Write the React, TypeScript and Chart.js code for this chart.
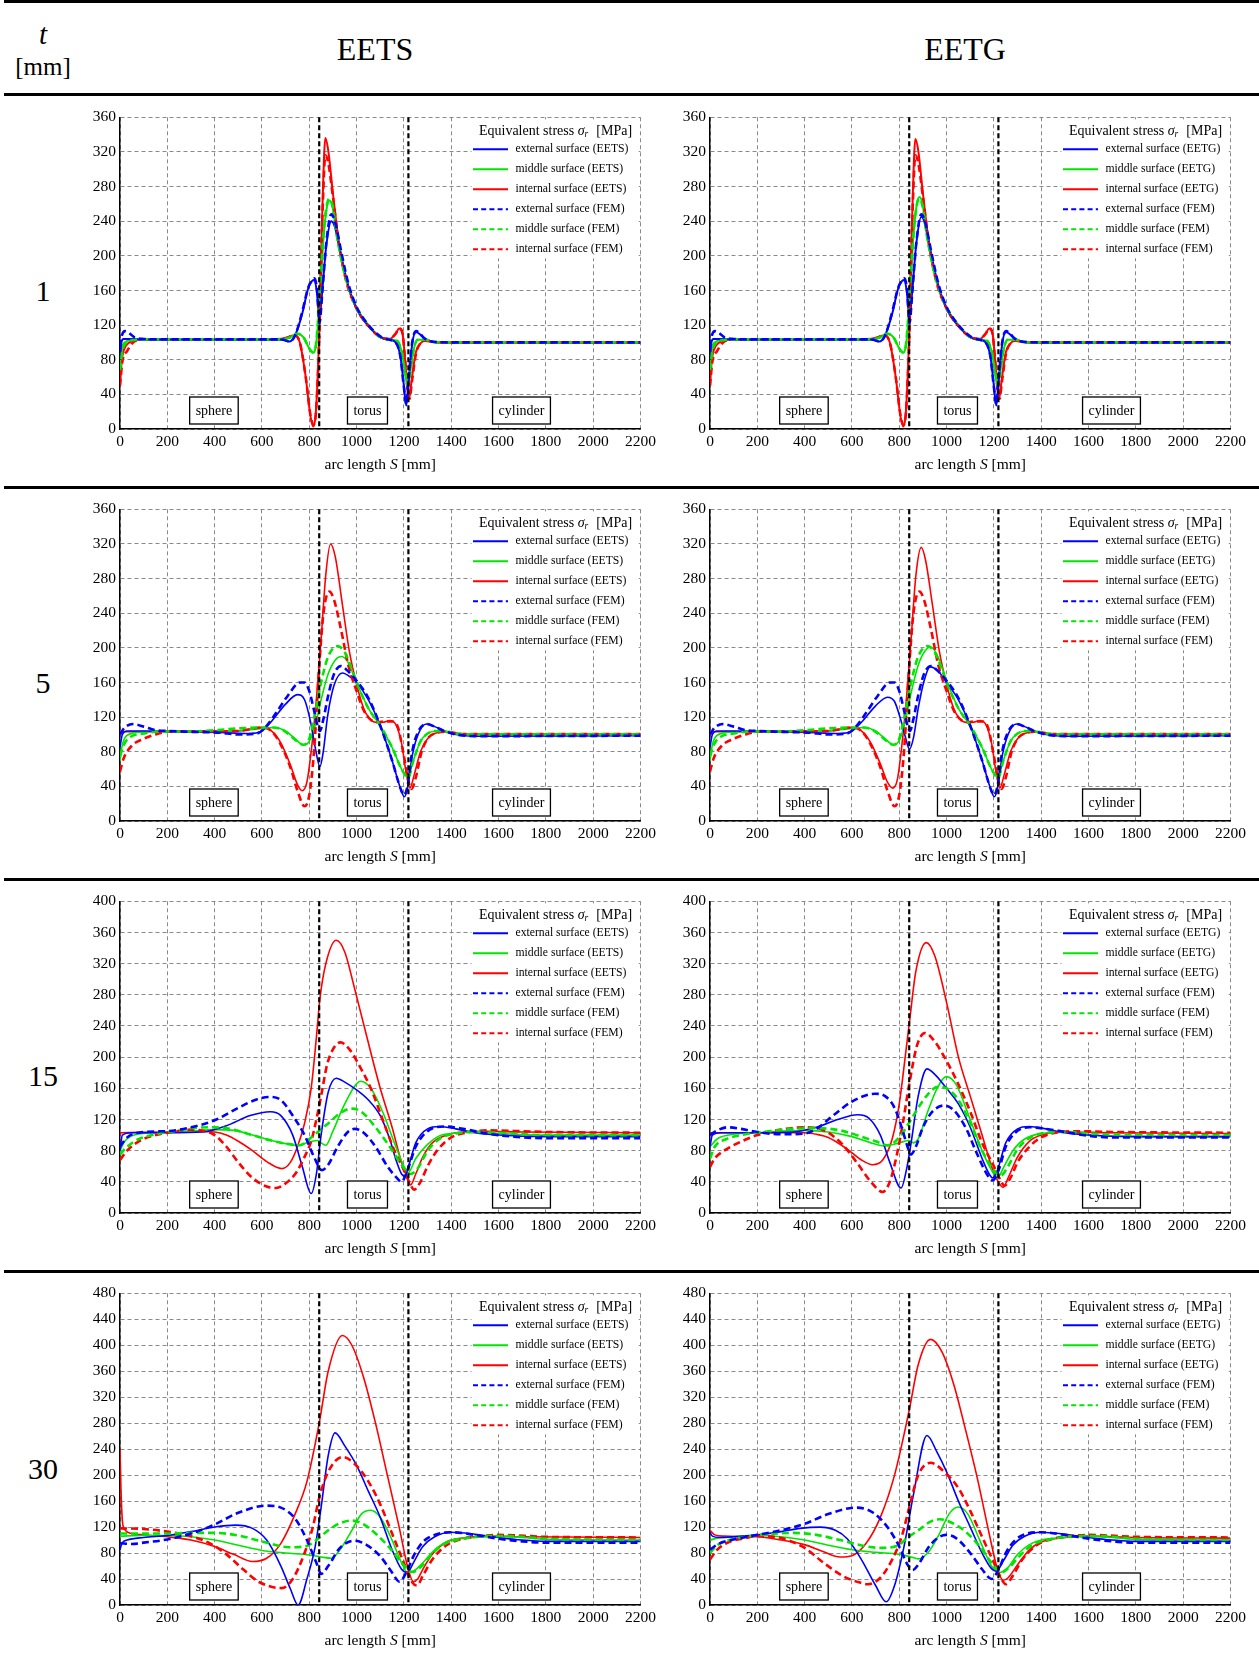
import React, { useEffect, useRef } from 'react';
import { Chart, registerables } from 'chart.js';

Chart.register(...registerables);

const FONT = '"Liberation Serif", "Times New Roman", serif';
Chart.defaults.font.family = FONT;

type P = [number, number][];

// ---------- axes / labels ----------
const X_MAX = 2200;
const X_STEP = 200;
const Y_STEP = 40;
const Y_MAXES = [360, 360, 400, 480];
const THICKNESS_LABELS = ['1', '5', '15', '30'];
const METHODS = ['EETS', 'EETG'];
const BOUNDARIES = [842, 1219];
const REGIONS = ['sphere', 'torus', 'cylinder'];
const REGION_X = [397, 1046, 1697];
const SURFACES = ['external surface', 'middle surface', 'internal surface'];
const COLORS = ['#0000ff', '#00e600', '#ff0000'];

// ---------- t = 1 mm ----------
const T1_EETS_EXT: P = [[0,80],[6,100],[15,104],[40,104],[100,103.5],[650,103.5],[690,103],[715,101],[740,108],[770,133],[795,162],[812,171],[822,172],[832,158],[843,128],[855,160],[872,212],[893,240],[910,232],[935,200],[965,165],[1000,139],[1050,119],[1100,106],[1140,103],[1165,100],[1185,84],[1200,50],[1210,27],[1220,55],[1235,98],[1250,112],[1265,110],[1290,104],[1330,100.5],[1400,100],[2200,100]];
const T1_EETS_MID: P = [[0,65],[8,92],[20,100],[50,103],[100,103.5],[680,103.5],[720,106],[750,110],[775,106],[800,93],[815,88],[828,96],[842,140],[860,220],[875,257],[886,264],[898,257],[915,225],[940,190],[970,160],[1000,140],[1050,120],[1100,106],[1140,103],[1170,102],[1190,90],[1205,66],[1215,51],[1225,63],[1240,90],[1258,103],[1290,103],[1330,100.5],[1400,100],[2200,100]];
const T1_EETS_INT: P = [[0,50],[8,80],[25,96],[60,102],[100,103.5],[650,103.5],[700,105],[735,108],[760,100],[785,60],[805,15],[817,3],[828,20],[842,110],[855,250],[868,336],[880,322],[900,272],[925,216],[955,173],[1000,139],[1050,119],[1100,106],[1140,104],[1165,110],[1180,116],[1193,112],[1205,80],[1215,46],[1222,35],[1232,55],[1250,88],[1270,99],[1290,102],[1330,100.5],[1400,100],[2200,100]];
const T1_EETG_EXT: P = [[0,80],[6,100],[15,104],[40,104],[100,103.5],[650,103.5],[690,103],[715,101],[740,108],[770,133],[795,162],[812,171],[822,172],[832,158],[843,128],[855,160],[872,214],[893,245],[910,236],[935,202],[965,166],[1000,139],[1050,119],[1100,106],[1140,103],[1165,100],[1185,84],[1200,50],[1210,27],[1220,55],[1235,98],[1250,112],[1265,110],[1290,104],[1330,100.5],[1400,100],[2200,100]];
const T1_EETG_MID: P = [[0,65],[8,92],[20,100],[50,103],[100,103.5],[680,103.5],[720,106],[750,110],[775,106],[800,93],[815,88],[828,96],[842,142],[860,224],[875,261],[886,268],[898,260],[915,227],[940,191],[970,160],[1000,140],[1050,120],[1100,106],[1140,103],[1170,102],[1190,90],[1205,66],[1215,51],[1225,63],[1240,90],[1258,103],[1290,103],[1330,100.5],[1400,100],[2200,100]];
const T1_EETG_INT: P = [[0,50],[8,80],[25,96],[60,102],[100,103.5],[650,103.5],[700,105],[735,108],[760,100],[785,60],[805,15],[817,3],[828,20],[842,110],[855,250],[868,335],[880,322],[900,272],[925,216],[955,173],[1000,139],[1050,119],[1100,106],[1140,104],[1165,110],[1180,116],[1193,112],[1205,80],[1215,46],[1222,35],[1232,55],[1250,88],[1270,99],[1290,102],[1330,100.5],[1400,100],[2200,100]];
const T1_FEM_EXT: P = [[0,95],[8,108],[22,113],[38,111],[60,106],[100,104],[200,103.5],[650,103.5],[690,103],[715,101],[740,108],[770,135],[795,163],[812,172],[822,174],[833,160],[843,122],[855,158],[872,215],[893,248],[910,238],[935,205],[965,168],[1000,141],[1050,120],[1100,107],[1140,103],[1165,100],[1185,84],[1200,48],[1210,29],[1220,58],[1235,100],[1252,113],[1268,110],[1290,104],[1330,100.5],[1400,100],[2200,100]];
const T1_FEM_MID: P = [[0,68],[10,90],[30,100],[70,103],[120,103.5],[680,103.5],[720,106],[750,110],[775,106],[800,93],[815,89],[828,97],[842,145],[860,225],[875,260],[886,266],[898,258],[915,226],[940,190],[970,160],[1000,140],[1050,120],[1100,106],[1140,103],[1170,102],[1190,90],[1205,66],[1216,50],[1226,63],[1240,90],[1258,103],[1290,103],[1330,100.5],[1400,100],[2200,100]];
const T1_FEM_INT: P = [[0,50],[10,78],[30,90],[55,100],[100,103.5],[650,103.5],[700,105],[735,108],[760,100],[785,60],[805,16],[818,5],[829,22],[842,105],[855,240],[868,316],[880,308],[900,268],[925,215],[955,172],[1000,139],[1050,119],[1100,106],[1140,104],[1165,110],[1180,116],[1193,112],[1205,80],[1216,45],[1224,35],[1234,55],[1252,88],[1270,99],[1290,102],[1330,100.5],[1400,100],[2200,100]];

// ---------- t = 5 mm ----------
const T5_EETS_EXT: P = [[0,85],[10,100],[30,104],[100,104],[300,103],[450,102],[540,101],[600,104],[640,115],[700,135],[750,146],[780,140],[805,115],[825,85],[845,63],[858,78],[878,122],[905,157],[940,171],[975,166],[1000,160],[1050,140],[1100,110],[1150,70],[1185,38],[1202,28],[1215,38],[1235,75],[1260,100],[1295,112],[1330,109],[1370,104],[1420,100],[1500,98],[2200,98.5]];
const T5_EETS_MID: P = [[0,70],[10,88],[30,99],[100,103],[300,103.5],[500,104],[600,107],[650,108],[700,104],[740,95],[775,88],[800,92],[825,110],[850,140],[880,170],[910,186],[935,190],[960,185],[1000,160],[1050,130],[1100,110],[1150,85],[1190,60],[1216,51],[1240,70],[1270,92],[1300,101],[1340,104],[1380,103],[1450,100],[2200,100]];
const T5_EETS_INT: P = [[0,103],[300,103.5],[500,104],[600,108],[640,104],[680,90],[720,65],[750,42],[770,35],[790,45],[810,85],[830,140],[850,210],[870,285],[890,320],[910,305],[940,250],[970,195],[1000,158],[1030,130],[1050,120],[1080,114],[1110,114],[1140,116],[1165,112],[1190,90],[1210,55],[1225,38],[1245,55],[1270,80],[1300,95],[1340,102],[1380,103],[1450,100.5],[2200,100.5]];
const T5_EETG_EXT: P = [[0,85],[10,100],[30,104],[100,104],[300,103],[450,102],[540,101],[600,104],[640,114],[700,133],[750,143],[780,138],[805,118],[825,98],[843,83],[860,96],[880,130],[905,162],[930,178],[965,173],[1000,160],[1050,140],[1100,110],[1150,70],[1185,38],[1202,28],[1215,38],[1235,75],[1260,100],[1295,112],[1330,109],[1370,104],[1420,100],[1500,98],[2200,98.5]];
const T5_EETG_MID: P = [[0,70],[10,88],[30,99],[100,103],[300,103.5],[500,104],[600,107],[650,108],[700,104],[740,95],[775,88],[800,93],[825,115],[850,148],[880,180],[910,197],[932,201],[960,192],[1000,162],[1050,130],[1100,110],[1150,85],[1190,60],[1216,51],[1240,70],[1270,92],[1300,101],[1340,104],[1380,103],[1450,100],[2200,100]];
const T5_EETG_INT: P = [[0,103],[300,103.5],[500,104],[600,108],[640,104],[680,90],[720,66],[750,45],[773,38],[792,48],[810,85],[830,140],[850,210],[870,283],[893,316],[912,300],[940,250],[970,195],[1000,158],[1030,130],[1050,120],[1080,114],[1110,114],[1140,116],[1165,112],[1190,90],[1210,55],[1225,38],[1245,55],[1270,80],[1300,95],[1340,102],[1380,103],[1450,100.5],[2200,100.5]];
const T5_FEM_EXT: P = [[0,100],[20,108],[55,112],[100,109],[150,105],[200,104],[300,103],[420,102],[500,100],[580,101],[620,110],[660,125],[710,145],[760,160],[780,160],[800,150],[820,128],[835,110],[845,104],[860,118],[880,145],[905,170],[935,179],[960,174],[1000,162],[1050,142],[1100,110],[1150,70],[1185,38],[1200,30],[1215,40],[1235,80],[1260,103],[1295,112],[1330,109],[1370,104],[1420,100],[1500,98],[2200,98.5]];
const T5_FEM_MID: P = [[0,75],[20,90],[50,98],[100,101],[150,103],[300,103.5],[600,108],[650,108],[700,103],[740,94],[775,88],[800,95],[825,125],[850,160],[880,190],[920,202],[950,195],[980,175],[1000,160],[1050,130],[1100,110],[1150,85],[1190,60],[1218,50],[1240,70],[1270,92],[1300,101],[1340,104],[1380,103],[1450,100],[2200,100]];
const T5_FEM_INT: P = [[0,57],[15,72],[50,87],[100,95],[150,100],[200,103],[300,103.5],[500,104],[600,108],[640,104],[680,88],[720,62],[750,35],[780,17],[800,30],[820,80],[840,170],[860,240],[885,265],[905,255],[935,220],[965,180],[1000,150],[1030,128],[1060,117],[1090,114],[1120,115],[1150,115],[1175,108],[1200,75],[1220,45],[1232,37],[1250,50],[1275,80],[1300,95],[1340,102],[1380,103],[1450,100.5],[2200,100.5]];

// ---------- t = 15 mm ----------
const T15_EETS_EXT: P = [[0,80],[10,100],[50,103],[200,103],[350,104],[450,112],[550,125],[636,130],[680,125],[730,100],[770,60],[808,25],[830,50],[850,100],[880,155],[914,173],[950,168],[1000,158],[1050,145],[1100,125],[1140,95],[1170,65],[1190,50],[1205,47],[1220,60],[1250,90],[1300,108],[1353,111],[1420,108],[1500,103],[1600,100],[1800,98],[2200,98]];
const T15_EETS_MID: P = [[0,80],[20,92],[60,100],[150,103],[300,105],[400,107],[480,106],[560,100],[640,93],[700,89],[750,87],[800,91],[835,93],[855,89],[870,87],[900,105],[950,140],[1018,169],[1060,160],[1110,130],[1160,90],[1200,60],[1218,52],[1250,70],[1300,88],[1350,99],[1400,102],[1500,104],[1600,102],[1800,100],[2200,100]];
const T15_EETS_INT: P = [[0,100],[5,103],[200,104],[300,105],[400,104],[450,100],[500,92],[560,80],[620,66],[683,57],[720,65],[750,85],[780,115],[808,160],[830,225],[845,275],[870,320],[914,350],[950,335],[990,290],[1040,230],[1100,160],[1150,110],[1190,65],[1215,45],[1228,36],[1250,50],[1280,72],[1320,90],[1380,100],[1450,104],[1550,105],[1700,104],[2200,103]];
const T15_EETS_FEM_EXT: P = [[0,85],[30,97],[100,104],[200,105],[300,110],[400,119],[500,135],[580,146],[636,149],[680,145],[730,125],[780,100],[820,72],[854,55],[880,62],[920,85],[960,103],[991,108],[1030,103],[1080,85],[1130,60],[1170,45],[1190,40],[1215,55],[1250,85],[1300,105],[1369,111],[1450,108],[1550,102],[1700,97],[1800,96],[2200,96]];
const T15_EETS_FEM_MID: P = [[0,75],[30,85],[80,95],[150,101],[250,106],[300,109],[400,110],[480,107],[560,100],[640,93],[700,89],[760,87],[800,95],[840,105],[880,115],[930,128],[979,134],[1020,130],[1080,110],[1140,85],[1200,58],[1228,50],[1260,58],[1300,80],[1350,95],[1400,101],[1500,104],[1600,103],[1800,100],[2200,100]];
const T15_EETS_FEM_INT: P = [[0,68],[30,80],[80,92],[150,100],[220,104],[300,107],[360,105],[400,100],[450,85],[500,65],[560,45],[620,34],[660,32],[700,38],[745,52],[780,72],[808,92],[830,120],[850,150],[875,190],[900,210],[932,219],[970,210],[1010,190],[1060,160],[1110,120],[1160,80],[1200,55],[1225,38],[1244,30],[1270,40],[1300,60],[1340,80],[1400,97],[1480,104],[1550,106],[1700,105],[1800,104],[2200,103]];
const T15_EETG_EXT: P = [[0,85],[10,100],[50,103],[200,103],[350,104],[450,110],[540,120],[624,126],[670,122],[720,100],[760,65],[808,32],[830,55],[850,90],[880,150],[917,185],[950,178],[1000,160],[1050,140],[1100,110],[1150,70],[1180,50],[1195,45],[1215,55],[1250,90],[1300,108],[1350,111],[1420,108],[1500,103],[1600,100],[1800,98],[2200,98]];
const T15_EETG_MID: P = [[0,85],[30,95],[100,101],[200,103],[400,106],[500,104],[600,98],[680,90],[740,86],[800,90],[840,93],[860,90],[880,95],[920,130],[960,160],[998,175],[1040,165],[1100,120],[1150,80],[1190,55],[1215,45],[1240,58],[1280,80],[1330,95],[1400,102],[1500,104],[1600,100],[1800,98],[2200,98]];
const T15_EETG_INT: P = [[0,103],[200,103],[400,103],[450,101],[500,97],[580,82],[640,68],[687,62],[730,68],[770,95],[800,140],[825,200],[845,250],[870,310],[914,347],[950,330],[1000,270],[1050,200],[1100,150],[1150,100],[1190,60],[1215,42],[1239,33],[1260,45],[1300,72],[1350,92],[1400,100],[1500,104],[1700,103],[2200,102]];
const T15_EETG_FEM_EXT: P = [[0,100],[30,106],[75,110],[130,108],[200,104],[300,101],[400,102],[450,108],[520,125],[600,143],[698,153],[740,150],[780,135],[810,110],[835,85],[848,75],[870,85],[900,110],[940,130],[991,138],[1030,132],[1080,110],[1130,75],[1170,50],[1195,42],[1220,55],[1250,85],[1290,103],[1350,110],[1420,108],[1500,104],[1600,99],[1700,97],[2200,97]];
const T15_EETG_FEM_MID: P = [[0,70],[20,85],[70,95],[150,101],[250,105],[350,108],[450,109],[550,106],[640,98],[700,92],[750,87],[800,97],[840,115],[880,135],[920,152],[963,162],[1000,160],[1050,145],[1100,115],[1150,80],[1200,55],[1228,48],[1260,60],[1300,82],[1350,96],[1400,102],[1500,104],[1600,102],[1800,100],[2200,100]];
const T15_EETG_FEM_INT: P = [[0,59],[20,70],[60,80],[120,90],[200,100],[300,107],[400,110],[450,109],[500,103],[560,88],[620,65],[680,40],[730,27],[760,40],[790,75],[815,115],[842,165],[875,215],[909,231],[950,220],[1000,195],[1050,165],[1100,130],[1150,90],[1200,60],[1228,42],[1245,35],[1270,45],[1300,65],[1350,85],[1400,97],[1480,104],[1550,105],[1700,104],[2200,103]];

// ---------- t = 30 mm ----------
const T30_EETS_EXT: P = [[0,85],[8,95],[30,100],[100,104],[200,107],[300,113],[400,120],[488,123],[560,118],[620,100],[680,60],[720,25],[753,0],[790,40],[825,90],[850,150],[880,230],[909,265],[950,245],[1000,215],[1050,175],[1100,135],[1150,85],[1190,55],[1215,50],[1240,65],[1280,90],[1330,105],[1400,112],[1500,109],[1600,104],[1700,100],[1800,98],[2200,98]];
const T30_EETS_MID: P = [[0,106],[100,107],[200,107],[300,105],[400,100],[500,92],[600,84],[700,80],[800,77],[850,74],[893,72],[930,85],[980,115],[1020,140],[1060,146],[1100,135],[1150,100],[1190,65],[1215,50],[1240,52],[1280,65],[1330,85],[1400,100],[1500,104],[1600,106],[1700,104],[1800,101],[2200,100]];
const T30_EETS_INT: P = [[0,240],[4,180],[10,130],[20,116],[50,110],[100,108],[200,105],[300,100],[400,90],[480,78],[560,67],[620,72],[680,95],[740,140],[790,190],[842,280],[880,360],[940,415],[980,400],[1030,350],[1080,280],[1130,200],[1180,120],[1215,60],[1240,36],[1258,40],[1280,55],[1320,78],[1380,97],[1450,103],[1550,106],[1700,105],[2200,104]];
const T30_EETS_FEM_EXT: P = [[0,95],[50,94],[100,96],[200,101],[300,110],[400,124],[500,142],[620,153],[680,150],[740,133],[790,100],[830,65],[851,48],[880,60],[930,88],[991,99],[1040,93],[1100,75],[1150,50],[1181,36],[1210,50],[1240,75],[1280,97],[1330,108],[1400,112],[1500,108],[1600,102],[1700,98],[1800,96],[2200,96]];
const T30_EETS_FEM_MID: P = [[0,110],[100,110],[200,110],[300,111],[400,111],[500,107],[600,98],[714,89],[780,90],[830,100],[880,115],[930,126],[982,130],[1030,124],[1080,110],[1140,88],[1190,65],[1236,51],[1270,58],[1310,75],[1360,92],[1450,102],[1550,106],[1650,106],[1800,102],[2200,100]];
const T30_EETS_FEM_INT: P = [[0,118],[100,117],[200,113],[300,106],[380,95],[450,78],[520,55],[590,35],[683,26],[730,40],[780,80],[815,120],[842,165],[880,205],[940,228],[990,218],[1050,190],[1100,155],[1150,110],[1200,65],[1235,35],[1255,30],[1280,45],[1320,70],[1380,92],[1450,102],[1550,107],[1600,108],[1800,105],[2200,104]];
const T30_EETG_EXT: P = [[0,112],[10,106],[40,104],[100,105],[200,108],[300,113],[380,118],[465,120],[530,115],[580,102],[640,70],[700,30],[745,5],[780,30],[820,90],[860,170],[917,261],[960,235],[1000,205],[1050,160],[1100,120],[1150,80],[1190,56],[1210,52],[1240,68],[1280,92],[1330,106],[1400,112],[1500,109],[1600,104],[1700,100],[1800,98],[2200,98]];
const T30_EETG_MID: P = [[0,100],[30,103],[100,105],[200,107],[300,105],[400,100],[500,92],[600,85],[700,81],[800,78],[850,74],[880,71],[920,80],[970,110],[1010,140],[1049,151],[1090,140],[1140,100],[1190,60],[1222,50],[1260,58],[1300,78],[1350,93],[1400,100],[1500,104],[1600,106],[1700,104],[1800,101],[2200,100]];
const T30_EETG_INT: P = [[0,115],[20,108],[60,106],[200,105],[300,100],[400,93],[480,82],[550,74],[600,76],[660,95],[720,135],[780,200],[842,300],[880,370],[932,409],[980,390],[1030,340],[1080,270],[1130,195],[1180,110],[1215,55],[1240,38],[1260,42],[1300,62],[1350,85],[1400,97],[1500,104],[1600,106],[1800,104],[2200,103]];
const T30_EETG_FEM_EXT: P = [[0,85],[30,93],[100,101],[200,108],[300,115],[400,125],[500,140],[620,150],[690,142],[750,120],[800,90],[835,62],[857,54],[880,62],[930,92],[998,108],[1040,103],[1100,80],[1150,55],[1190,40],[1220,55],[1250,80],[1290,100],[1340,110],[1400,112],[1500,108],[1600,102],[1700,98],[1800,96],[2200,96]];
const T30_EETG_FEM_MID: P = [[0,80],[30,92],[80,100],[150,105],[250,109],[350,111],[450,108],[550,100],[650,91],[720,88],[790,91],[840,105],[880,115],[930,128],[971,132],[1020,127],[1080,113],[1140,90],[1190,65],[1230,50],[1265,58],[1310,76],[1360,92],[1450,102],[1550,106],[1650,106],[1800,102],[2200,100]];
const T30_EETG_FEM_INT: P = [[0,70],[30,85],[80,97],[150,103],[200,106],[300,103],[400,88],[480,65],[560,45],[620,36],[667,32],[720,42],[770,70],[810,105],[842,150],[880,200],[932,219],[990,205],[1050,180],[1100,145],[1150,105],[1200,65],[1235,38],[1250,32],[1280,45],[1320,70],[1380,92],[1450,102],[1550,107],[1600,108],[1800,105],[2200,104]];

const ROW_SERIES: { eets: P[]; eetsFem: P[]; eetg: P[]; eetgFem: P[] }[] = [
  { eets: [T1_EETS_EXT, T1_EETS_MID, T1_EETS_INT], eetsFem: [T1_FEM_EXT, T1_FEM_MID, T1_FEM_INT], eetg: [T1_EETG_EXT, T1_EETG_MID, T1_EETG_INT], eetgFem: [T1_FEM_EXT, T1_FEM_MID, T1_FEM_INT] },
  { eets: [T5_EETS_EXT, T5_EETS_MID, T5_EETS_INT], eetsFem: [T5_FEM_EXT, T5_FEM_MID, T5_FEM_INT], eetg: [T5_EETG_EXT, T5_EETG_MID, T5_EETG_INT], eetgFem: [T5_FEM_EXT, T5_FEM_MID, T5_FEM_INT] },
  { eets: [T15_EETS_EXT, T15_EETS_MID, T15_EETS_INT], eetsFem: [T15_EETS_FEM_EXT, T15_EETS_FEM_MID, T15_EETS_FEM_INT], eetg: [T15_EETG_EXT, T15_EETG_MID, T15_EETG_INT], eetgFem: [T15_EETG_FEM_EXT, T15_EETG_FEM_MID, T15_EETG_FEM_INT] },
  { eets: [T30_EETS_EXT, T30_EETS_MID, T30_EETS_INT], eetsFem: [T30_EETS_FEM_EXT, T30_EETS_FEM_MID, T30_EETS_FEM_INT], eetg: [T30_EETG_EXT, T30_EETG_MID, T30_EETG_INT], eetgFem: [T30_EETG_FEM_EXT, T30_EETG_FEM_MID, T30_EETG_FEM_INT] },
];

// ---------- layout ----------
const AREA_TOPS = [116, 508, 900, 1292];
const ROW_LABEL_Y = [291, 683, 1076, 1469];
const PLOT_H = 313;
const PAD_TOP = 12;
const X_AXIS_H = 50;
const Y_AXIS_W = 40;
const CANVAS_W = 580;
const COL_LEFT = [80, 670];
const COL_PAD_RIGHT = [18, 16];

const overlayPlugin = {
  id: 'overlay',
  afterDraw(chart: any) {
    const { ctx, chartArea: a, scales } = chart;
    const xs = scales.x;
    ctx.save();
    // domain boundaries
    ctx.strokeStyle = '#000';
    ctx.lineWidth = 2.2;
    ctx.setLineDash([5, 3]);
    BOUNDARIES.forEach((v) => {
      const px = xs.getPixelForValue(v);
      ctx.beginPath();
      ctx.moveTo(px, a.top);
      ctx.lineTo(px, a.bottom);
      ctx.stroke();
    });
    ctx.setLineDash([]);
    // region labels
    ctx.font = `14px ${FONT}`;
    ctx.textAlign = 'center';
    ctx.textBaseline = 'middle';
    REGIONS.forEach((name, i) => {
      const cx = xs.getPixelForValue(REGION_X[i]);
      const w = ctx.measureText(name).width + 12;
      const h = 27;
      const top = a.bottom - 32;
      ctx.fillStyle = '#fff';
      ctx.fillRect(cx - w / 2, top, w, h);
      ctx.strokeStyle = '#000';
      ctx.lineWidth = 1.3;
      ctx.strokeRect(cx - w / 2, top, w, h);
      ctx.fillStyle = '#000';
      ctx.fillText(name, cx, top + h / 2 + 1);
    });
    // legend
    const L = a.right - 169;
    ctx.fillStyle = '#fff';
    ctx.fillRect(L, a.top + 2, 167, 139);
    // legend title
    const p1 = 'Equivalent stress ';
    const p4 = '  [MPa]';
    const fN = `14px ${FONT}`;
    const fI = `italic 14px ${FONT}`;
    const fS = `italic 9.5px ${FONT}`;
    ctx.font = fN;
    const w1 = ctx.measureText(p1).width;
    const w4 = ctx.measureText(p4).width;
    ctx.font = fI;
    const w2 = ctx.measureText('σ').width;
    ctx.font = fS;
    const w3 = ctx.measureText('r').width + 1;
    const tw = w1 + w2 + w3 + w4;
    let tx = a.right - 85 - tw / 2;
    const ty = a.top + 14;
    ctx.textAlign = 'left';
    ctx.fillStyle = '#000';
    ctx.font = fN; ctx.fillText(p1, tx, ty); tx += w1;
    ctx.font = fI; ctx.fillText('σ', tx, ty); tx += w2;
    ctx.font = fS; ctx.fillText('r', tx, ty + 3); tx += w3;
    ctx.font = fN; ctx.fillText(p4, tx, ty);
    // legend entries
    chart.data.datasets.forEach((ds: any, i: number) => {
      const y = a.top + 32 + i * 20;
      ctx.strokeStyle = ds.borderColor;
      ctx.lineWidth = 2;
      ctx.setLineDash(ds.borderDash && ds.borderDash.length ? [5, 3.2] : []);
      ctx.beginPath();
      ctx.moveTo(a.right - 167.5, y);
      ctx.lineTo(a.right - 132.5, y);
      ctx.stroke();
      ctx.setLineDash([]);
      ctx.fillStyle = '#000';
      ctx.font = `11.7px ${FONT}`;
      ctx.fillText(ds.label, a.right - 125, y);
    });
    // x axis title
    const s1 = 'arc length ';
    const s3 = ' [mm]';
    const fa = `15.5px ${FONT}`;
    const fai = `italic 15.5px ${FONT}`;
    ctx.font = fa;
    const a1 = ctx.measureText(s1).width;
    const a3 = ctx.measureText(s3).width;
    ctx.font = fai;
    const a2 = ctx.measureText('S').width;
    let ax = (a.left + a.right) / 2 - (a1 + a2 + a3) / 2;
    const ay = a.bottom + 36;
    ctx.font = fa; ctx.fillText(s1, ax, ay); ax += a1;
    ctx.font = fai; ctx.fillText('S', ax, ay); ax += a2;
    ctx.font = fa; ctx.fillText(s3, ax, ay);
    ctx.restore();
  },
};

function StressChart(props: { row: number; col: number }) {
  const { row, col } = props;
  const ref = useRef<HTMLCanvasElement>(null);
  useEffect(() => {
    if (!ref.current) return;
    const method = METHODS[col];
    const rs = ROW_SERIES[row];
    const main = col === 0 ? rs.eets : rs.eetg;
    const fem = col === 0 ? rs.eetsFem : rs.eetgFem;
    const solidW = row === 0 ? 2 : 1.6;
    const datasets: any[] = [
      ...main.map((s, i) => ({
        label: `${SURFACES[i]} (${method})`,
        data: s.map(([x, y]) => ({ x, y })),
        borderColor: COLORS[i],
        borderWidth: solidW,
        borderDash: [],
        order: 1,
      })),
      ...fem.map((s, i) => ({
        label: `${SURFACES[i]} (FEM)`,
        data: s.map(([x, y]) => ({ x, y })),
        borderColor: COLORS[i],
        borderWidth: 2.6,
        borderDash: [7, 4],
        order: 0,
      })),
    ];
    const gridCommon = { color: '#8a8a8a', lineWidth: 1, drawTicks: false };
    const borderCommon = { display: true, color: '#000', width: 1.5, dash: [4, 3] };
    const tickFont = { family: FONT, size: 15.5 };
    const chart = new Chart(ref.current, {
      type: 'line',
      data: { datasets },
      options: {
        responsive: false,
        animation: false,
        events: [],
        layout: { padding: { top: PAD_TOP, right: COL_PAD_RIGHT[col], left: 0, bottom: 0 } },
        elements: {
          point: { radius: 0 },
          line: { cubicInterpolationMode: 'monotone', fill: false },
        },
        plugins: { legend: { display: false }, tooltip: { enabled: false }, title: { display: false } },
        scales: {
          x: {
            type: 'linear',
            min: 0,
            max: X_MAX,
            ticks: { stepSize: X_STEP, autoSkip: false, maxRotation: 0, color: '#000', font: tickFont, padding: 4, callback: (v: any) => String(v) },
            grid: gridCommon,
            border: borderCommon,
            afterFit: (s: any) => { s.height = X_AXIS_H; },
          },
          y: {
            type: 'linear',
            min: 0,
            max: Y_MAXES[row],
            ticks: { stepSize: Y_STEP, color: '#000', font: tickFont, padding: 4, callback: (v: any) => String(v) },
            grid: gridCommon,
            border: borderCommon,
            afterFit: (s: any) => { s.width = Y_AXIS_W; },
          },
        },
      } as any,
      plugins: [overlayPlugin],
    });
    return () => chart.destroy();
  }, [row, col]);
  const h = PAD_TOP + PLOT_H + X_AXIS_H;
  return (
    <canvas
      ref={ref}
      width={CANVAS_W}
      height={h}
      style={{ position: 'absolute', left: COL_LEFT[col], top: AREA_TOPS[row] - PAD_TOP, width: CANVAS_W, height: h }}
    />
  );
}

function Txt(props: { s: string; cx: number; cy: number; size: number; italic?: boolean }) {
  const { s, cx, cy, size, italic } = props;
  return (
    <div
      style={{
        position: 'absolute',
        left: cx - 150,
        width: 300,
        top: cy - size * 0.6,
        height: size * 1.2,
        lineHeight: `${size * 1.2}px`,
        fontSize: size,
        fontStyle: italic ? 'italic' : 'normal',
        textAlign: 'center',
        fontFamily: FONT,
        color: '#000',
        whiteSpace: 'nowrap',
      }}
    >
      {s}
    </div>
  );
}

const RULES = [0, 93, 486, 878, 1270];

export default function App() {
  return (
    <div style={{ position: 'absolute', left: 0, top: 0, width: 1259, height: 1659, background: '#fff', overflow: 'hidden' }}>
      {RULES.map((t) => (
        <div key={t} style={{ position: 'absolute', left: 4, top: t, width: 1255, height: 3, background: '#000' }} />
      ))}
      <Txt s="t" cx={43} cy={34} size={29} italic />
      <Txt s="[mm]" cx={43} cy={67} size={25} />
      <Txt s={METHODS[0]} cx={375} cy={49} size={32} />
      <Txt s={METHODS[1]} cx={965} cy={49} size={32} />
      {THICKNESS_LABELS.map((l, i) => (
        <Txt key={l} s={l} cx={43} cy={ROW_LABEL_Y[i]} size={30} />
      ))}
      {[0, 1, 2, 3].map((r) => (
        <React.Fragment key={r}>
          <StressChart row={r} col={0} />
          <StressChart row={r} col={1} />
        </React.Fragment>
      ))}
    </div>
  );
}
